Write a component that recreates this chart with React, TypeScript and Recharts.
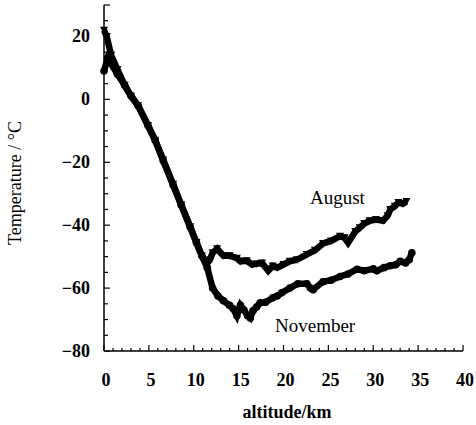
import React from 'react'
import { LineChart, Line, XAxis, YAxis } from 'recharts'

// August profile (altitude km / temperature °C)
const augAlt = [0, 0.3, 0.8, 1.5, 2.3, 3.0, 3.8, 4.9, 5.7, 6.6, 7.7, 8.6, 9.6, 10.3, 10.9, 11.4, 11.8, 12.1, 12.6, 13.3, 14.0, 14.8, 15.2, 15.9, 16.5, 17.0, 17.6, 18.3, 18.8, 19.3, 20.0, 20.7, 21.5, 22.6, 23.5, 24.4, 25.3, 26.3, 26.8, 27.2, 28.0, 28.5, 29.0, 29.6, 30.3, 31.1, 31.6, 31.9, 32.4, 32.8, 33.3, 33.7]
const augTemp = [22, 20, 14, 9.5, 4.5, 1, -2, -8.3, -13, -19.3, -27, -33.5, -40.5, -45.5, -49.7, -52.5, -51, -48.8, -47.5, -49.7, -49.7, -50.5, -51.5, -51.3, -52.5, -52.3, -52, -54.5, -53, -53.5, -52.5, -51.5, -51, -49.3, -48, -45.8, -45, -43.5, -44, -45.6, -42, -40.8, -39.5, -38.6, -38.2, -38.6, -37, -35, -34, -32.8, -33.2, -32.5]

// November profile
const novAlt = [0, 0.4, 0.7, 1.5, 2.3, 3.0, 3.8, 4.9, 5.7, 6.6, 7.7, 8.6, 9.6, 10.3, 10.9, 11.5, 12.1, 12.7, 13.3, 14.0, 14.4, 14.8, 15.2, 15.6, 16.0, 16.3, 16.6, 17.0, 17.4, 18.0, 18.8, 19.3, 19.8, 20.7, 21.6, 22.6, 23.0, 23.3, 24.4, 25.3, 26.3, 27.2, 28.2, 29.0, 30.0, 30.4, 31.2, 31.9, 32.5, 33.0, 33.6, 34.0, 34.3]
const novTemp = [9, 13, 11.8, 8, 4.5, 1.2, -2, -8.3, -13, -19.5, -27.2, -33.6, -40.6, -45.6, -49.7, -53.5, -60, -62.5, -64, -65.5, -66.6, -68.8, -65.5, -67, -68.8, -69.5, -67.2, -66, -64.7, -64.5, -63.1, -62.5, -61.5, -60, -58.6, -58.6, -60, -60.5, -58, -57.5, -56.3, -55.5, -54, -54.5, -53.9, -54.5, -53.5, -52.9, -52.6, -51.5, -52, -51, -48.8]

const xTicks = [0, 1, 2, 3, 4, 5, 6, 7, 8, 9, 10, 11, 12, 13, 14, 15, 16, 17, 18, 19, 20, 21, 22, 23, 24, 25, 26, 27, 28, 29, 30, 31, 32, 33, 34, 35, 36, 37, 38, 39, 40]
const yTicks = [-80, -75, -70, -65, -60, -55, -50, -45, -40, -35, -30, -25, -20, -15, -10, -5, 0, 5, 10, 15, 20, 25, 30]

const augData = augAlt.map((a, i) => ({ alt: a, temp: augTemp[i] }))
const novData = novAlt.map((a, i) => ({ alt: a, temp: novTemp[i] }))

const serif = '"Liberation Serif", "DejaVu Serif", serif'

const XTick = ({ x, y, payload }: any) => {
  const v = payload.value
  const major = v % 5 === 0
  return (
    <g>
      <line x1={x} x2={x} y1={y} y2={y - (major ? 6 : 3)} stroke="#000" strokeWidth={1.2} />
      {major && (
        <text x={x + 2} y={y + 35} textAnchor="middle" fontFamily={serif} fontWeight="bold" fontSize={18} fill="#000">
          {v}
        </text>
      )}
    </g>
  )
}

const YTick = ({ x, y, payload }: any) => {
  const v = payload.value
  const major = v % 20 === 0
  return (
    <g>
      <line x1={x} x2={x + (major || v === 30 ? 6 : 4)} y1={y} y2={y} stroke="#000" strokeWidth={1.2} />
      {major && (
        <text x={x - 14} y={y + 6} textAnchor="end" fontFamily={serif} fontWeight="bold" fontSize={18} fill="#000">
          {v < 0 ? '\u2212' + Math.abs(v) : v}
        </text>
      )}
    </g>
  )
}

const triDot = (p: any) => (
  <path key={'a' + p.index} d={`M${p.cx - 4},${p.cy - 3.5} L${p.cx + 4},${p.cy - 3.5} L${p.cx},${p.cy + 4} Z`} fill="#000" />
)
const circDot = (p: any) => <circle key={'n' + p.index} cx={p.cx} cy={p.cy} r={3.8} fill="#000" />

export default function App() {
  return (
    <div style={{ position: 'absolute', left: 0, top: 0, width: 476, height: 425, background: '#fff' }}>
      <LineChart width={476} height={425} margin={{ top: 5, right: 13, bottom: 34, left: 44 }}>
        <XAxis
          type="number"
          dataKey="alt"
          domain={[0, 40]}
          ticks={xTicks}
          interval={0}
          height={40}
          tickSize={0}
          tickMargin={0}
          tickLine={false}
          axisLine={{ stroke: '#000', strokeWidth: 1.5 }}
          tick={(p: any) => <XTick {...p} />}
        />
        <YAxis
          type="number"
          dataKey="temp"
          domain={[-80, 30]}
          ticks={yTicks}
          interval={0}
          width={60}
          tickSize={0}
          tickMargin={0}
          tickLine={false}
          axisLine={{ stroke: '#000', strokeWidth: 1.5 }}
          tick={(p: any) => <YTick {...p} />}
        />
        <Line data={augData} dataKey="temp" type="linear" stroke="#000" strokeWidth={6.5} dot={triDot} isAnimationActive={false} />
        <Line data={novData} dataKey="temp" type="linear" stroke="#000" strokeWidth={6.5} dot={circDot} isAnimationActive={false} />
      </LineChart>
      <svg width={476} height={425} style={{ position: 'absolute', left: 0, top: 0, pointerEvents: 'none' }}>
        <text x={310} y={204} fontFamily={serif} fontSize={19} fill="#000">August</text>
        <text x={275} y={332} fontFamily={serif} fontSize={19} fill="#000">November</text>
        <text x={287} y={418} textAnchor="middle" fontFamily={serif} fontWeight="bold" fontSize={18} fill="#000">altitude/km</text>
        <text x={0} y={0} transform="translate(21,183) rotate(-90)" textAnchor="middle" fontFamily={serif} fontSize={18} fill="#000">
          Temperature / °C
        </text>
      </svg>
    </div>
  )
}
